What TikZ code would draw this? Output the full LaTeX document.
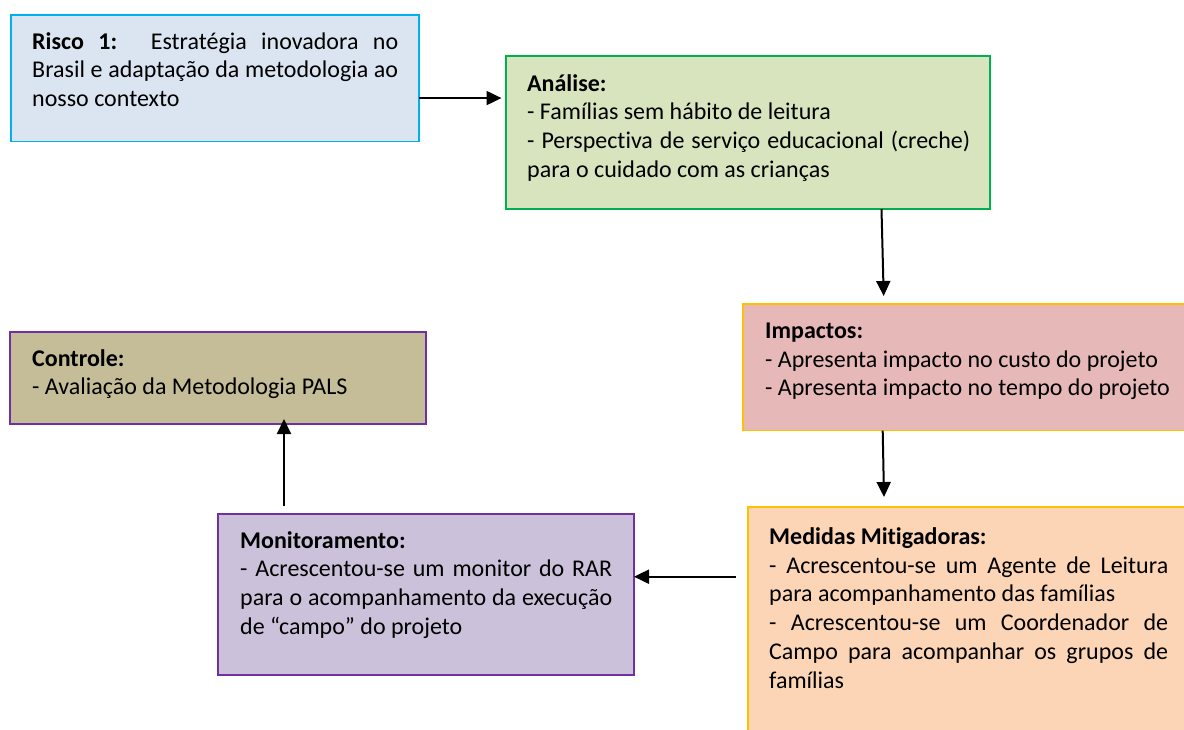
\documentclass[tikz,border=0pt]{standalone}
\usepackage{fontspec}
\setmainfont{Carlito}[Ligatures={TeX,NoCommon,NoContextual}]
\usetikzlibrary{arrows.meta,calc}
\definecolor{riskfill}{HTML}{DBE5F1}
\definecolor{riskdraw}{HTML}{00B0F0}
\definecolor{analfill}{HTML}{D7E4BD}
\definecolor{analdraw}{HTML}{00B050}
\definecolor{impafill}{HTML}{E6B9B8}
\definecolor{golddraw}{HTML}{FFC000}
\definecolor{medifill}{HTML}{FBD5B5}
\definecolor{monifill}{HTML}{CCC1DA}
\definecolor{purpdraw}{HTML}{7030A0}
\definecolor{ctrlfill}{HTML}{C4BD97}
\newcommand\jl[1]{\makebox[\linewidth][s]{#1}}
\tikzset{
  box/.style={rectangle, anchor=north west, inner sep=0pt, outer sep=0pt, line width=1.5pt},
  txt/.style={anchor=base west, inner sep=0pt, font=\fontsize{24}{28.7}\selectfont},
  arr/.style={line width=2pt, -{Triangle[length=15pt,width=14pt]}}
}
\begin{document}
\begin{tikzpicture}[x=1pt,y=-1pt]
\useasboundingbox (0,0) rectangle (1184,729);
\clip (0,0) rectangle (1184,729);
% boxes
\node[box, draw=riskdraw, fill=riskfill, minimum width=408pt, minimum height=126.7pt] (risk) at (11,15) {};
\node[box, draw=analdraw, fill=analfill, minimum width=484pt, minimum height=153pt] (anal) at (506,56) {};
\node[box, draw=golddraw, fill=impafill, minimum width=449pt, minimum height=126.7pt] (impa) at (743,304) {};
\node[box, draw=golddraw, fill=medifill, minimum width=444pt, minimum height=233pt] (medi) at (748,507) {};
\node[box, draw=purpdraw, fill=monifill, minimum width=416pt, minimum height=161pt] (moni) at (218,514) {};
\node[box, draw=purpdraw, fill=ctrlfill, minimum width=416pt, minimum height=92pt] (ctrl) at (10,332) {};
% texts
\node[txt] (riskt) at ([shift={(21pt,-34pt)}]risk.north west) {\parbox[t]{366pt}{\raggedright
\jl{\textbf{Risco 1:}\hspace{0.35em} Estratégia inovadora no}\\
\jl{Brasil e adaptação da metodologia ao}\\
nosso contexto}};
\node[txt] (analt) at ([shift={(21pt,-35pt)}]anal.north west) {\parbox[t]{443pt}{\raggedright
\textbf{Análise:}\\
- Famílias sem hábito de leitura\\
\jl{- Perspectiva de serviço educacional (creche)}\\
para o cuidado com as crianças}};
\node[txt] (impat) at ([shift={(22pt,-34.3pt)}]impa.north west) {\parbox[t]{405pt}{\raggedright
\textbf{Impactos:}\\
- Apresenta impacto no custo do projeto\\
- Apresenta impacto no tempo do projeto}};
\node[txt] (medit) at ([shift={(21pt,-37.5pt)}]medi.north west) {\parbox[t]{399pt}{\raggedright
\textbf{Medidas Mitigadoras:}\\
\jl{- Acrescentou-se um Agente de Leitura}\\
para acompanhamento das famílias\\
\jl{- Acrescentou-se um Coordenador de}\\
\jl{Campo para acompanhar os grupos de}\\
famílias}};
\node[txt] (monit) at ([shift={(22pt,-34pt)}]moni.north west) {\parbox[t]{372pt}{\raggedright
\textbf{Monitoramento:}\\
\jl{- Acrescentou-se um monitor do RAR}\\
\jl{para o acompanhamento da execução}\\
de “campo” do projeto}};
\node[txt] (ctrlt) at ([shift={(22pt,-34pt)}]ctrl.north west) {\parbox[t]{372pt}{\raggedright
\textbf{Controle:}\\
- Avaliação da Metodologia PALS}};
% connectors
\draw[arr] ([yshift=-19.7pt]risk.east) coordinate (a1s) -- ($(a1s -| anal.west)+(-4.5,0)$);
\draw[arr] ([xshift=133.5pt]anal.south) -- ([shift={(-83.8pt,8pt)}]impa.north);
\draw[arr] ([xshift=-84.8pt]impa.south) -- ([shift={(-86pt,10pt)}]medi.north);
\draw[arr] ([shift={(-12pt,46.8pt)}]medi.west) coordinate (a4s) -- (a4s -| moni.east);
\draw[arr] ([shift={(-142pt,8pt)}]moni.north) coordinate (a5s) -- ($(a5s |- ctrl.south)+(0,-5)$);
\end{tikzpicture}
\end{document}
